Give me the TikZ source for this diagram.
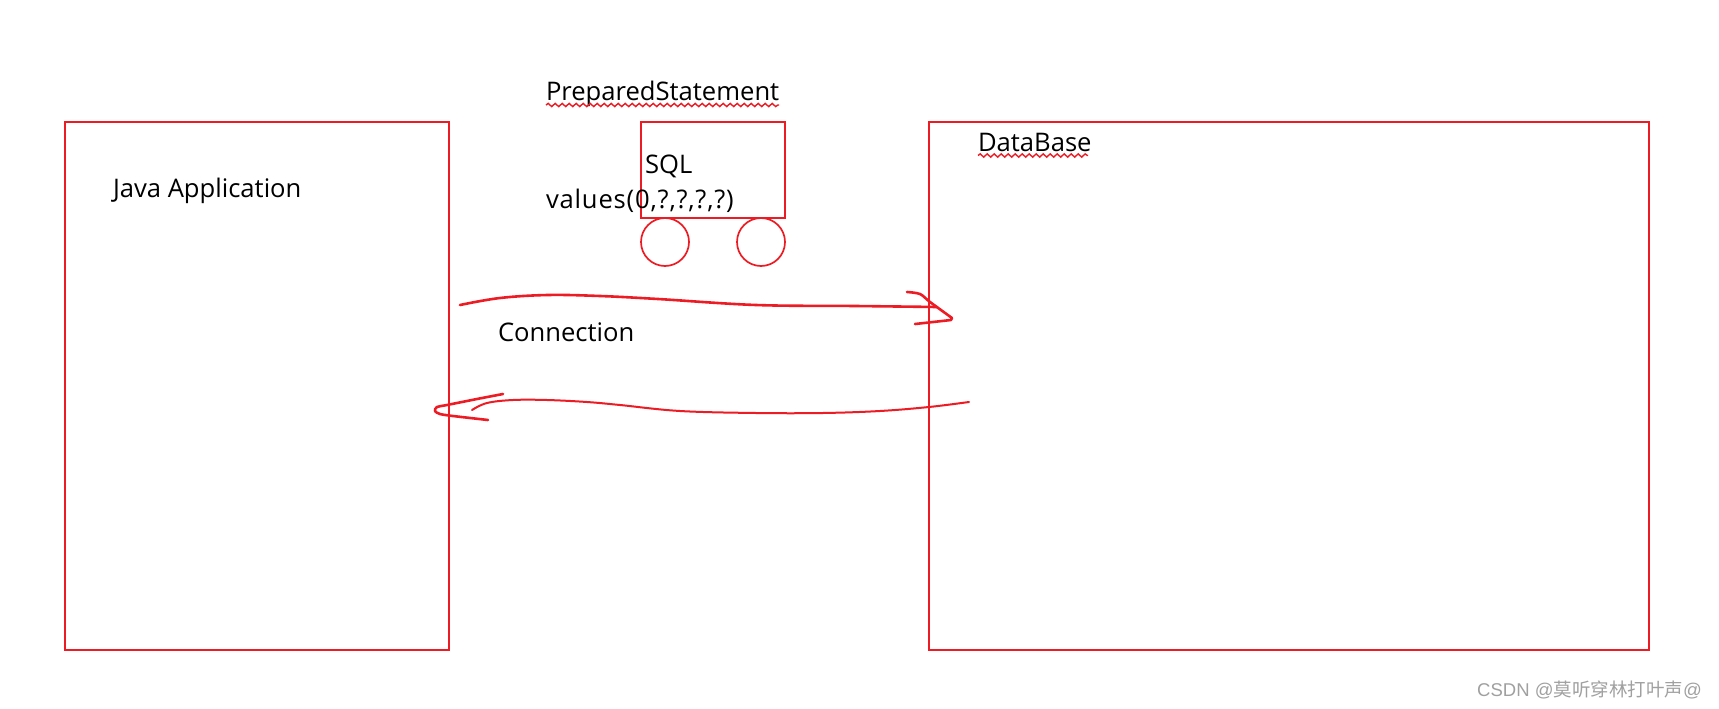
\documentclass[tikz,border=0pt]{standalone}
\usepackage{fontspec}
\setmainfont{Open Sans}
\newfontfamily\wmlatin{Liberation Sans}
\newfontfamily\wmcjk{Noto Sans CJK SC}
\newfontfamily\widesans[LetterSpace=3.2]{Open Sans}
\usetikzlibrary{decorations.pathmorphing}
\definecolor{pen}{HTML}{ED1C24}
\definecolor{wm}{HTML}{A0A0A0}
\tikzset{
  redbox/.style={draw=pen,line width=1.7pt,inner sep=0pt,outer sep=0pt,anchor=north west},
  wheel/.style={draw=pen,line width=1.7pt,circle,inner sep=0pt,outer sep=0pt,minimum size=48pt},
  label/.style={anchor=base west,inner sep=0pt,outer sep=0pt,font=\fontsize{25.6pt}{28pt}\selectfont,text=black},
  ink/.style={draw=pen,line width=2.6pt,line cap=round,line join=round},
  thinink/.style={draw=pen,line width=2pt,line cap=round,line join=round},
  squiggle/.style={draw=pen,line width=1.4pt,decorate,decoration={snake,amplitude=1.6pt,segment length=7pt}},
}
\begin{document}
\begin{tikzpicture}[x=1pt,y=-1pt]
\path[use as bounding box,fill=white] (0,0) rectangle (1719,709);
% boxes
\node[redbox,minimum width=384pt,minimum height=528pt] (java) at (65,122) {};
\node[redbox,minimum width=720pt,minimum height=528pt] (db) at (929,122) {};
\node[redbox,minimum width=144pt,minimum height=96pt] (stmt) at (641,122) {};
\node[wheel] (w1) at (665,242) {};
\node[wheel] (w2) at (761,242) {};
% labels
\node[label] (ps) at (546,100) {PreparedStatement};
\node[label] (sql) at (645,173) {SQL};
\node[label] (vals) at (546,208) {\widesans values(0,?,?,?,?)};
\node[label] (jl) at (113,197) {Java Application};
\node[label] (dl) at (978,151) {DataBase};
\node[label] (conn) at (498,341) {Connection};
% spell-check underlines
\draw[squiggle] (ps.base west)++(0,5) -- ++(233,0);
\draw[squiggle] (dl.base west)++(0,4.5) -- ++(110,0);
% hand-drawn arrows
\coordinate (a1) at (460,305);
\coordinate (a2) at (937,307);
\coordinate (b1) at (969,402);
\coordinate (b2) at (472,410);
\draw[ink] plot[smooth,tension=0.6] coordinates {(a1) (500,298) (548,295) (600,296) (658,299) (756,305) (855,306) (a2)};
\draw[ink] plot[smooth,tension=0.5] coordinates {(907,292) (920,294) (930,302) (952,318)} -- (951,320) -- (915,324);
\draw[thinink] plot[smooth,tension=0.6] coordinates {(b1) (929,407) (880,411) (823,413) (756,413) (680,411) (620,405) (587,402) (547,400) (513,400) (487,403) (b2)};
\draw[ink] plot[smooth,tension=0.5] coordinates {(503,394) (477,399) (447,405) (437,407) (435,411) (440,414) (453,416) (488,420)};
% watermark
\node[anchor=base west,inner sep=0pt,text=wm,font=\fontsize{18.5pt}{20pt}\selectfont] (mark) at (1477,696) {\wmlatin CSDN @\wmcjk 莫听穿林打叶声\wmlatin @};
\end{tikzpicture}
\end{document}
